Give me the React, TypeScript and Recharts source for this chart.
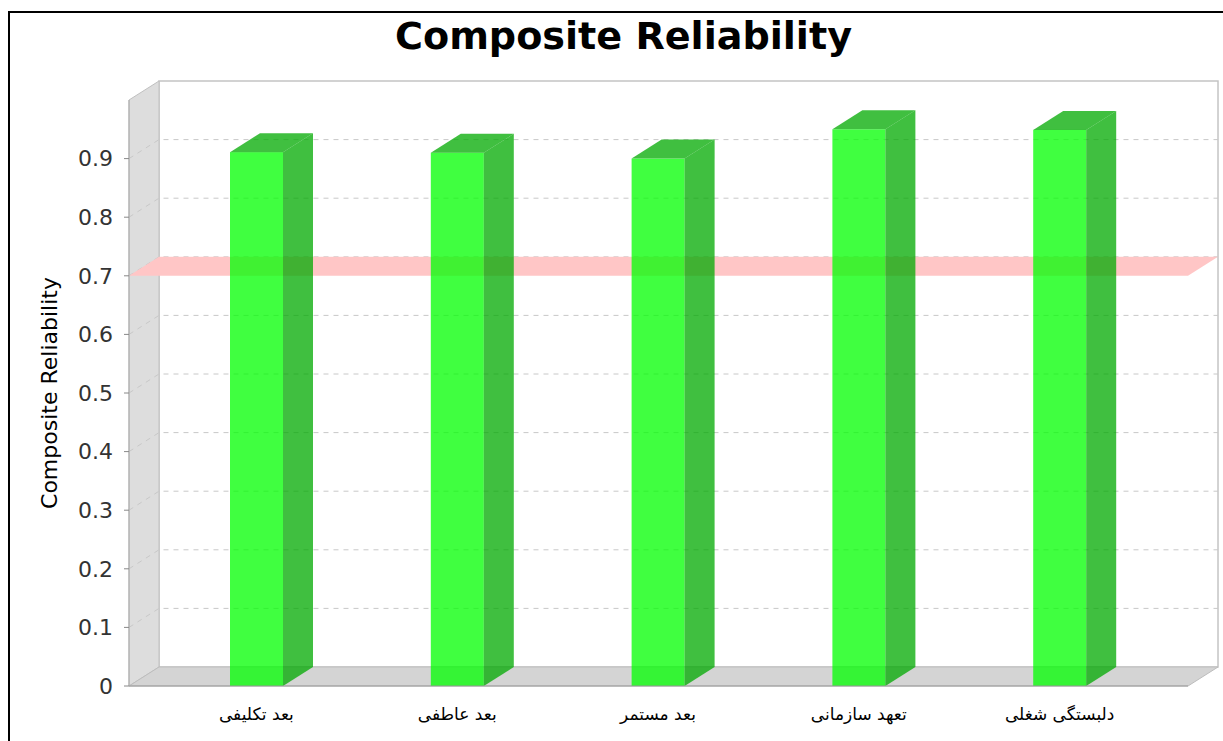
import React from "react";
import { BarChart, Bar, XAxis, YAxis, ReferenceArea } from "recharts";

// values
const categories = ["بعد تکلیفی", "بعد عاطفی", "بعد مستمر", "تعهد سازمانی", "دلبستگی شغلی"];
const reliability = [0.911, 0.91, 0.9, 0.95, 0.949];
const yTicks = [0, 0.1, 0.2, 0.3, 0.4, 0.5, 0.6, 0.7, 0.8, 0.9];
const gridLevels = [0.1, 0.2, 0.3, 0.4, 0.5, 0.6, 0.7, 0.8, 0.9];
const threshold = 0.7;

const chartData = categories.map((name, i) => ({ name, value: reliability[i] }));

// 3D depth offset
const DX = 30;
const DY = 19;

function Walls(props: any) {
  const { x, y, width, height } = props;
  const b = y + height;
  return (
    <g>
      <rect x={x + DX} y={y - DY} width={width} height={height} fill="#ffffff" stroke="#c4c4c4" strokeWidth={1.5} />
      <polygon
        points={`${x},${y} ${x + DX},${y - DY} ${x + DX},${b - DY} ${x},${b}`}
        fill="#dddddd"
        stroke="#c0c0c0"
      />
      <polygon
        points={`${x},${b} ${x + DX},${b - DY} ${x + width + DX},${b - DY} ${x + width},${b}`}
        fill="#d4d4d4"
        stroke="#bdbdbd"
      />
    </g>
  );
}

function GridLine(props: any) {
  const { x, y, width } = props;
  const yb = y - DY;
  return (
    <path
      d={`M${x},${y} L${x + DX},${yb} L${x + width + DX},${yb}`}
      fill="none"
      stroke="#c8c8c8"
      strokeDasharray="5 5"
    />
  );
}

function ThresholdBand(props: any) {
  const { x, y, width } = props;
  return (
    <polygon
      points={`${x},${y} ${x + DX},${y - DY} ${x + width + DX},${y - DY} ${x + width},${y}`}
      fill="#ffc6c6"
    />
  );
}

function Bar3D(props: any) {
  const { x, y, width, height } = props;
  const r = x + width;
  const b = y + height;
  return (
    <g>
      <rect x={x} y={y} width={width} height={height} fill="rgba(0,255,0,0.75)" />
      <polygon
        points={`${r},${y} ${r + DX},${y - DY} ${r + DX},${b - DY} ${r},${b}`}
        fill="rgba(0,170,0,0.75)"
      />
      <polygon
        points={`${x},${y} ${x + DX},${y - DY} ${r + DX},${y - DY} ${r},${y}`}
        fill="rgba(0,170,0,0.75)"
      />
    </g>
  );
}

function CategoryTick(props: any) {
  const { x, y, payload } = props;
  return (
    <text x={x} y={y + 34} textAnchor="middle" fontFamily="DejaVu Sans" fontSize={17} fill="#000">
      {payload.value}
    </text>
  );
}

function YLabel(props: any) {
  const { viewBox } = props;
  const cx = viewBox.x + 57;
  const cy = viewBox.y + viewBox.height / 2;
  return (
    <text
      x={cx}
      y={cy}
      transform={`rotate(-90, ${cx}, ${cy})`}
      textAnchor="middle"
      fontFamily="DejaVu Sans"
      fontSize={22}
      fill="#000"
    >
      Composite Reliability
    </text>
  );
}

export default function App() {
  return (
    <div style={{ position: "absolute", left: 0, top: 0, width: 1223, height: 741, overflow: "hidden", background: "#fff" }}>
      <div
        style={{
          position: "absolute",
          left: 8,
          top: 11,
          width: 1400,
          height: 900,
          border: "2px solid #000",
        }}
      />
      <div style={{ position: "absolute", left: 0, top: 0 }}>
        <BarChart
          width={1223}
          height={741}
          data={chartData}
          margin={{ top: 100, right: 35, bottom: 15, left: 0 }}
          barSize={53}
        >
          <XAxis xAxisId="frame" type="number" dataKey="value" domain={[0, 1]} allowDataOverflow hide />
          <XAxis
            dataKey="name"
            padding={{ left: 27, right: 28 }}
            height={40}
            tickLine={false}
            tickSize={0}
            tickMargin={0}
            interval={0}
            axisLine={{ stroke: "#999999" }}
            tick={<CategoryTick />}
          />
          <YAxis
            width={129}
            domain={[0, 1]}
            ticks={yTicks}
            interval={0}
            tickSize={5}
            tickMargin={11}
            axisLine={{ stroke: "#aaaaaa" }}
            tickLine={{ stroke: "#888888" }}
            tick={{ fill: "#333333", fontSize: 22, fontFamily: "DejaVu Sans" }}
            tickFormatter={(v: number) => (v === 0 ? "0" : v.toFixed(1))}
            label={<YLabel />}
          />
          <ReferenceArea xAxisId="frame" x1={0} x2={1} y1={0} y2={1} shape={Walls} />
          {gridLevels.map((v) => (
            <ReferenceArea key={v} xAxisId="frame" x1={0} x2={1} y1={0} y2={v} shape={GridLine} />
          ))}
          <ReferenceArea xAxisId="frame" x1={0} x2={1} y1={0} y2={threshold} shape={ThresholdBand} />
          <Bar dataKey="value" shape={Bar3D} isAnimationActive={false} />
        </BarChart>
      </div>
      <svg width={1223} height={741} style={{ position: "absolute", left: 0, top: 0, pointerEvents: "none" }}>
        <text
          x={623.5}
          y={49}
          textAnchor="middle"
          fontFamily="DejaVu Sans"
          fontWeight="bold"
          fontSize={37}
          textLength={457}
          lengthAdjust="spacingAndGlyphs"
          fill="#000"
        >
          Composite Reliability
        </text>
      </svg>
    </div>
  );
}
